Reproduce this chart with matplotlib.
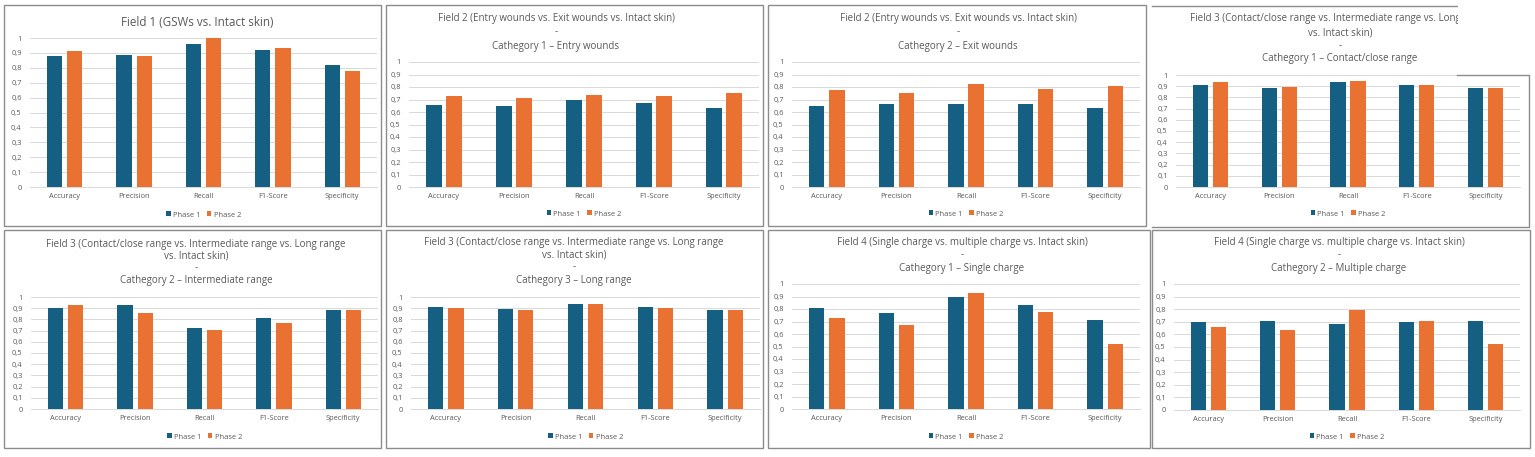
import matplotlib
matplotlib.use("Agg")
import matplotlib.pyplot as plt
from matplotlib.patches import Rectangle
import numpy as np

W, H = 1535, 457

metrics = ["Accuracy", "Precision", "Recall", "F1-Score", "Specificity"]
series_names = ["Phase 1", "Phase 2"]

titles = [
    "Field 1 (GSWs vs. Intact skin)",
    "Field 2 (Entry wounds vs. Exit wounds vs. Intact skin)\n-\nCathegory 1 \u2013 Entry wounds",
    "Field 2 (Entry wounds vs. Exit wounds vs. Intact skin)\n-\nCathegory 2 \u2013 Exit wounds",
    "Field 3 (Contact/close range vs. Intermediate range vs. Long range\nvs. Intact skin)\n-\nCathegory 1 \u2013 Contact/close range",
    "Field 3 (Contact/close range vs. Intermediate range vs. Long range\nvs. Intact skin)\n-\nCathegory 2 \u2013 Intermediate range",
    "Field 3 (Contact/close range vs. Intermediate range vs. Long range\nvs. Intact skin)\n-\nCathegory 3 \u2013 Long range",
    "Field 4 (Single charge vs. multiple charge vs. Intact skin)\n-\nCathegory 1 \u2013 Single charge",
    "Field 4 (Single charge vs. multiple charge vs. Intact skin)\n-\nCathegory 2 \u2013 Multiple charge",
]

phase1 = [
    [0.88, 0.885, 0.96, 0.92, 0.82],
    [0.66, 0.65, 0.70, 0.67, 0.63],
    [0.65, 0.665, 0.665, 0.665, 0.63],
    [0.91, 0.885, 0.94, 0.91, 0.88],
    [0.90, 0.925, 0.72, 0.81, 0.88],
    [0.91, 0.89, 0.94, 0.91, 0.88],
    [0.81, 0.77, 0.90, 0.83, 0.71],
    [0.70, 0.71, 0.685, 0.70, 0.71],
]
phase2 = [
    [0.915, 0.88, 1.00, 0.935, 0.78],
    [0.73, 0.71, 0.74, 0.725, 0.75],
    [0.775, 0.75, 0.825, 0.785, 0.805],
    [0.94, 0.89, 0.945, 0.915, 0.88],
    [0.93, 0.855, 0.705, 0.77, 0.88],
    [0.905, 0.885, 0.935, 0.905, 0.88],
    [0.73, 0.675, 0.93, 0.78, 0.52],
    [0.66, 0.635, 0.79, 0.705, 0.52],
]

yticks = [0, 0.1, 0.2, 0.3, 0.4, 0.5, 0.6, 0.7, 0.8, 0.9, 1.0]
ytick_labels = ["0", "0,1", "0,2", "0,3", "0,4", "0,5", "0,6", "0,7", "0,8", "0,9", "1"]

C1 = "#156082"
C2 = "#E97132"
TXT = "#595959"
FONT = "Open Sans"

plt.rcParams["font.family"] = [FONT, "DejaVu Sans"]

fig = plt.figure(figsize=(W / 100, H / 100), dpi=100)
fig.patch.set_facecolor("white")

def fx(x):
    return x / W

def fy(y):
    return 1 - y / H

# layout in pixels
panels = [
    dict(box=(4, 5, 381, 226), gl=30, gr=377, y1=38, y0=187, tys=[22], tsz=8.4, leg=215, tx=197),
    dict(box=(386, 5, 763, 226), gl=409, gr=759, y1=62, y0=187, tys=[19, 32, 46], tsz=7.0, leg=214, tx=556),
    dict(box=(768, 5, 1146, 226), gl=792, gr=1140, y1=62, y0=187, tys=[19, 32, 46], tsz=7.0, leg=214, tx=958),
    dict(box=None, gl=1176, gr=1520, y1=75, y0=187, tys=[19, 33, 46, 59], tsz=7.0, leg=214, tx=1340),
    dict(box=(4, 230, 381, 448), gl=31, gr=378, y1=297, y0=409, tys=[244, 256, 268, 281], tsz=7.0, leg=437, tx=196),
    dict(box=(386, 230, 763, 448), gl=411, gr=760, y1=297, y0=409, tys=[243, 255, 267, 281], tsz=7.0, leg=437, tx=574),
    dict(box=(768, 230, 1150, 448), gl=792, gr=1140, y1=284, y0=409, tys=[242, 255, 268], tsz=7.0, leg=437, tx=962),
    dict(box=(1152, 230, 1530, 448), gl=1174, gr=1520, y1=284, y0=410, tys=[242, 255, 268], tsz=7.0, leg=437, tx=1339),
]

for i, p in enumerate(panels):
    if p["box"] is not None:
        x0, y0, x1, y1 = p["box"]
        fig.patches.append(Rectangle((fx(x0), fy(y1)), fx(x1 - x0), (y1 - y0) / H,
                                     transform=fig.transFigure, fill=False,
                                     edgecolor="#8c8c8c", lw=1.0, zorder=0))
    ax = fig.add_axes([fx(p["gl"]), fy(p["y0"]), fx(p["gr"] - p["gl"]), (p["y0"] - p["y1"]) / H])
    x = np.arange(len(metrics))
    w = 0.22
    ax.bar(x - 0.145, phase1[i], w, color=C1, zorder=3, label=series_names[0])
    ax.bar(x + 0.145, phase2[i], w, color=C2, zorder=3, label=series_names[1])
    ax.set_xlim(-0.5, len(metrics) - 0.5)
    ax.set_ylim(0, 1)
    ax.set_yticks(yticks)
    ax.set_yticklabels(ytick_labels)
    ax.set_xticks(x)
    ax.set_xticklabels(metrics)
    ax.tick_params(axis="both", length=0, labelsize=5.4, labelcolor=TXT)
    ax.tick_params(axis="y", pad=6)
    ax.tick_params(axis="x", pad=4)
    ax.grid(axis="y", color="#d9d9d9", lw=0.7, zorder=0)
    for s in ["top", "right", "left"]:
        ax.spines[s].set_visible(False)
    ax.spines["bottom"].set_color("#d9d9d9")
    ax.spines["bottom"].set_linewidth(0.7)
    ax.set_facecolor("none")
    ax.legend(loc="center", bbox_to_anchor=(0.5, -(p["leg"] - p["y0"]) / (p["y0"] - p["y1"])),
              ncol=2, frameon=False, fontsize=5.4, handlelength=0.6, handleheight=0.6,
              handletextpad=0.3, columnspacing=0.9, labelcolor=TXT)
    for line, ty in zip(titles[i].split("\n"), p["tys"]):
        fig.text(fx(p["tx"]), fy(ty), line, ha="center", va="center",
                 fontsize=p["tsz"], color=TXT, zorder=1)

# panel 4: clipped title region and partial frame (screenshot crop)
fig.patches.append(Rectangle((fx(1458), fy(74)), fx(80), 72 / H, transform=fig.transFigure,
                             facecolor="white", edgecolor="none", zorder=5))
fig.lines.append(plt.Line2D([fx(1152), fx(1457)], [fy(6), fy(6)], transform=fig.transFigure,
                            color="#8c8c8c", lw=1.0))
fig.lines.append(plt.Line2D([fx(1457), fx(1529), fx(1529), fx(1152)],
                            [fy(75), fy(75), fy(227), fy(227)], transform=fig.transFigure,
                            color="#8c8c8c", lw=1.0))

fig.savefig("out.png", dpi=100, facecolor="white")
